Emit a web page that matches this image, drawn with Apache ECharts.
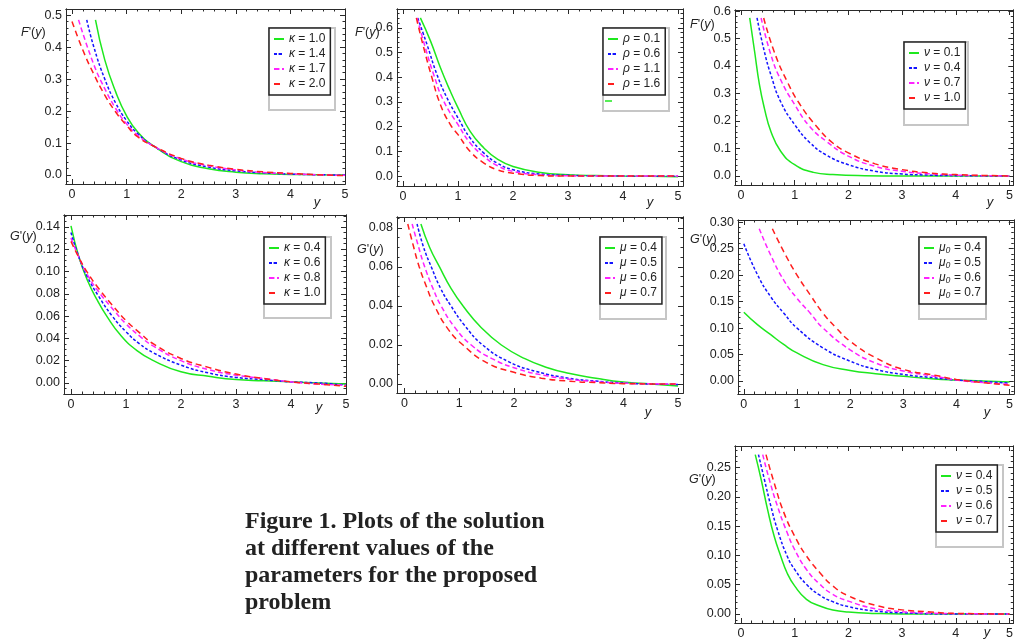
<!DOCTYPE html>
<html>
<head>
<meta charset="utf-8">
<title>Figure 1</title>
<script src="https://cdn.jsdelivr.net/npm/echarts@6/dist/echarts.min.js"></script>
<style>
  html, body { margin: 0; padding: 0; background: #fff; }
  #main { width: 1016px; height: 642px; }
</style>
</head>
<body>
<div id="main"></div>
<script>
// tick labels
var xLabels = ['0', '1', '2', '3', '4', '5'];
var yLabelsF1 = ['0.0', '0.1', '0.2', '0.3', '0.4', '0.5'];
var yLabelsF2 = ['0.0', '0.1', '0.2', '0.3', '0.4', '0.5', '0.6'];
var yLabelsF3 = ['0.0', '0.1', '0.2', '0.3', '0.4', '0.5', '0.6'];
var yLabelsG4 = ['0.00', '0.02', '0.04', '0.06', '0.08', '0.10', '0.12', '0.14'];
var yLabelsG5 = ['0.00', '0.02', '0.04', '0.06', '0.08'];
var yLabelsG6 = ['0.00', '0.05', '0.10', '0.15', '0.20', '0.25', '0.30'];
var yLabelsG7 = ['0.00', '0.05', '0.10', '0.15', '0.20', '0.25'];

// legend names
var namesKappaF = ['κ = 1.0', 'κ = 1.4', 'κ = 1.7', 'κ = 2.0'];
var namesRho = ['ρ = 0.1', 'ρ = 0.6', 'ρ = 1.1', 'ρ = 1.6'];
var namesNuF = ['ν = 0.1', 'ν = 0.4', 'ν = 0.7', 'ν = 1.0'];
var namesKappaG = ['κ = 0.4', 'κ = 0.6', 'κ = 0.8', 'κ = 1.0'];
var namesMu = ['μ = 0.4', 'μ = 0.5', 'μ = 0.6', 'μ = 0.7'];
var namesMu0 = ['μ₀ = 0.4', 'μ₀ = 0.5', 'μ₀ = 0.6', 'μ₀ = 0.7'];
var namesNuG = ['ν = 0.4', 'ν = 0.5', 'ν = 0.6', 'ν = 0.7'];

// panel 1: F'(y) for kappa
var f1_k10 = [[0.43,0.485],[0.6,0.36],[0.8,0.26],[1.0,0.185],[1.2,0.135],[1.5,0.09],[2,0.042],[2.5,0.02],[3,0.009],[3.5,0.004],[4,0.002],[4.5,0.001],[5,0]];
var f1_k14 = [[0.27,0.485],[0.4,0.4],[0.6,0.3],[0.8,0.225],[1.0,0.17],[1.2,0.13],[1.5,0.09],[2,0.047],[2.5,0.025],[3,0.013],[3.5,0.007],[4,0.003],[4.5,0.001],[5,0]];
var f1_k17 = [[0.12,0.485],[0.4,0.345],[0.6,0.27],[0.8,0.208],[1.0,0.16],[1.2,0.125],[1.5,0.09],[2,0.05],[2.5,0.029],[3,0.016],[3.5,0.008],[4,0.004],[4.5,0.001],[5,-0.001]];
var f1_k20 = [[0.0,0.48],[0.2,0.39],[0.4,0.315],[0.6,0.25],[0.8,0.197],[1.0,0.155],[1.2,0.12],[1.5,0.09],[2,0.052],[2.5,0.031],[3,0.018],[3.5,0.01],[4,0.005],[4.5,0.001],[5,-0.002]];

// panel 2: F'(y) for rho
var f2_r01 = [[0.315,0.64],[0.5,0.546],[0.68,0.438],[0.86,0.343],[1.0,0.276],[1.22,0.181],[1.47,0.114],[1.71,0.07],[2.0,0.039],[2.5,0.015],[3.0,0.006],[3.5,0.002],[4,0],[4.5,-0.001],[5,-0.003]];
var f2_r06 = [[0.267,0.64],[0.436,0.532],[0.618,0.41],[0.8,0.316],[1.0,0.235],[1.22,0.154],[1.47,0.093],[1.71,0.053],[2.0,0.026],[2.5,0.008],[3.0,0.003],[3.5,0.001],[4,0],[5,-0.001]];
var f2_r11 = [[0.255,0.64],[0.406,0.519],[0.558,0.41],[0.74,0.303],[1.0,0.208],[1.22,0.134],[1.47,0.08],[1.71,0.043],[2.0,0.019],[2.5,0.005],[3.0,0.001],[4,0],[5,0]];
var f2_r16 = [[0.242,0.64],[0.376,0.519],[0.527,0.397],[0.68,0.289],[0.86,0.208],[1.0,0.168],[1.22,0.1],[1.47,0.053],[1.71,0.026],[2.0,0.012],[2.5,0.002],[3,0],[4,0],[5,0]];

// panel 3: F'(y) for nu
var f3_n01 = [[0.164,0.575],[0.255,0.453],[0.345,0.332],[0.436,0.247],[0.558,0.162],[0.74,0.09],[1.0,0.041],[1.35,0.013],[1.71,0.005],[2.3,0.001],[3,0],[4,0],[5,0]];
var f3_n04 = [[0.3,0.575],[0.436,0.453],[0.558,0.368],[0.74,0.27],[1.0,0.187],[1.28,0.122],[1.59,0.076],[2.0,0.041],[2.5,0.017],[3.0,0.007],[3.5,0.003],[4,0.001],[5,0]];
var f3_n07 = [[0.376,0.575],[0.558,0.441],[0.74,0.35],[1.0,0.26],[1.28,0.18],[1.59,0.126],[2.0,0.072],[2.5,0.035],[3.0,0.017],[3.5,0.008],[4,0.003],[4.5,0.001],[5,0]];
var f3_n10 = [[0.424,0.575],[0.618,0.453],[0.86,0.344],[1.1,0.26],[1.41,0.18],[1.71,0.12],[2.0,0.084],[2.5,0.044],[3.0,0.023],[3.5,0.011],[4,0.005],[4.5,0.002],[5,0]];

// panel 4: G'(y) for kappa
var g4_k04 = [[0,0.141],[0.15,0.112],[0.3,0.092],[0.47,0.075],[0.65,0.06],[0.9,0.043],[1.2,0.029],[1.5,0.02],[2,0.01],[2.5,0.006],[3,0.003],[3.5,0.002],[4,0.001],[4.5,0],[5,-0.001]];
var g4_k06 = [[0,0.135],[0.15,0.112],[0.3,0.095],[0.5,0.078],[0.75,0.06],[1.0,0.046],[1.25,0.035],[1.5,0.027],[2,0.016],[2.5,0.009],[3,0.005],[3.5,0.003],[4,0.001],[4.5,0],[5,-0.002]];
var g4_k08 = [[0,0.13],[0.15,0.112],[0.3,0.097],[0.5,0.082],[0.8,0.064],[1.0,0.053],[1.25,0.042],[1.5,0.033],[2,0.02],[2.5,0.012],[3,0.007],[3.5,0.004],[4,0.001],[4.5,-0.001],[5,-0.002]];
var g4_k10 = [[0,0.127],[0.15,0.112],[0.3,0.099],[0.5,0.085],[0.8,0.067],[1.0,0.056],[1.25,0.045],[1.5,0.035],[2,0.022],[2.5,0.014],[3,0.008],[3.5,0.004],[4,0.001],[4.5,-0.001],[5,-0.003]];

// panel 5: G'(y) for mu
var g5_m04 = [[0.3,0.082],[0.46,0.07],[0.64,0.06],[0.85,0.049],[1.07,0.04],[1.4,0.029],[1.77,0.02],[2.2,0.013],[2.6,0.0085],[3,0.0055],[3.5,0.003],[4,0.001],[4.5,0],[5,-0.001]];
var g5_m05 = [[0.23,0.082],[0.35,0.07],[0.49,0.06],[0.66,0.049],[0.85,0.04],[1.1,0.03],[1.43,0.02],[1.9,0.0115],[2.4,0.0065],[3,0.003],[3.5,0.0015],[4,0.0005],[4.5,0],[5,-0.0002]];
var g5_m06 = [[0.14,0.082],[0.25,0.071],[0.37,0.06],[0.52,0.049],[0.67,0.04],[0.92,0.029],[1.22,0.02],[1.6,0.013],[2.1,0.0075],[2.6,0.0042],[3,0.0025],[3.5,0.0012],[4,0.0004],[5,0]];
var g5_m07 = [[0.06,0.082],[0.16,0.071],[0.27,0.06],[0.4,0.05],[0.55,0.04],[0.8,0.028],[1.07,0.02],[1.5,0.011],[2,0.006],[2.5,0.003],[3,0.0015],[3.5,0.0007],[4,0.0002],[5,0]];

// panel 6: G'(y) for mu0
var g6_m04 = [[0,0.13],[0.25,0.107],[0.506,0.0875],[0.75,0.069],[1.0,0.053],[1.49,0.031],[2.0,0.02],[2.48,0.0138],[3.0,0.0088],[3.59,0.004],[4,0.002],[4.5,0],[5,-0.002]];
var g6_m05 = [[0,0.259],[0.26,0.2],[0.506,0.159],[0.753,0.128],[1.0,0.1],[1.49,0.0625],[2.0,0.0375],[2.48,0.022],[3.0,0.0125],[3.59,0.006],[4,0.002],[4.5,-0.001],[5,-0.004]];
var g6_m06 = [[0.29,0.2875],[0.506,0.2375],[0.753,0.19],[1.0,0.156],[1.25,0.128],[1.49,0.1],[2.0,0.059],[2.48,0.034],[3.0,0.019],[3.59,0.009],[4,0.002],[4.5,-0.003],[5,-0.006]];
var g6_m07 = [[0.537,0.2875],[0.753,0.244],[1.0,0.2],[1.25,0.1625],[1.49,0.128],[1.74,0.1],[2.0,0.075],[2.48,0.044],[3.0,0.022],[3.59,0.011],[4,0.003],[4.5,-0.003],[5,-0.008]];

// panel 7: G'(y) for nu
var g7_n04 = [[0.267,0.272],[0.376,0.23],[0.497,0.178],[0.618,0.133],[0.74,0.099],[0.86,0.07],[1.0,0.048],[1.22,0.025],[1.47,0.0136],[1.71,0.0068],[2.0,0.0034],[2.5,0.001],[3,0],[4,0],[5,0]];
var g7_n05 = [[0.327,0.272],[0.436,0.23],[0.558,0.184],[0.68,0.144],[0.86,0.099],[1.0,0.076],[1.22,0.0506],[1.47,0.032],[1.71,0.021],[2.0,0.0125],[2.5,0.005],[3.0,0.002],[4,0],[5,0]];
var g7_n06 = [[0.406,0.272],[0.527,0.23],[0.68,0.184],[0.86,0.139],[1.0,0.11],[1.22,0.076],[1.47,0.0506],[1.71,0.0335],[2.0,0.022],[2.5,0.009],[3.0,0.004],[3.5,0.0015],[4,0.0005],[5,0]];
var g7_n07 = [[0.467,0.272],[0.618,0.224],[0.8,0.173],[1.0,0.133],[1.22,0.099],[1.47,0.0705],[1.71,0.048],[2.0,0.031],[2.5,0.015],[3.0,0.007],[3.53,0.0034],[4,0.001],[5,0]];

var FONT = '"Liberation Sans", Arial, sans-serif';
var COLORS = ['#1ee81e', '#1414ff', '#ff22ff', '#ff1e1e'];
var DASHES = ['solid', [3, 2], [5, 3], [6, 4]];
// legend samples: short dash pairs, and one long bar for blue
var ICONS = [
  'path://M0,0h4v2h-4zM6,0h4v2h-4z',
  'path://M0,0h10v2h-10z',
  'path://M0,0h4v2h-4zM6,0h4v2h-4z',
  'path://M0,0h4v2h-4zM6,0h4v2h-4z'
];

var panels = [
  { grid: [66, 9, 279, 175], xr: [-0.11, 5.0], yr: [-0.028, 0.519], yLabels: yLabelsF1, yMinor: 0.02,
    names: namesKappaF, data: [f1_k10, f1_k14, f1_k17, f1_k20], fn: 'F', title: [21, 33], yName: [317, 202],
    legend: [269, 28], shadow: [269, 28, 66, 82] },
  { grid: [397, 9, 286, 177], xr: [-0.11, 5.09], yr: [-0.04, 0.676], yLabels: yLabelsF2, yMinor: 0.02,
    names: namesRho, data: [f2_r01, f2_r06, f2_r11, f2_r16], fn: 'F', title: [355, 33], yName: [650, 202],
    legend: [603, 28], shadow: [603, 28, 66, 83] },
  { grid: [735, 10, 285, 175], xr: [-0.11, 5.07], yr: [-0.033, 0.604], yLabels: yLabelsF3, yMinor: 0.02,
    names: namesNuF, data: [f3_n01, f3_n04, f3_n07, f3_n10], fn: 'F', title: [690, 25], yName: [990, 202],
    legend: [904, 42], shadow: [904, 42, 64, 83] },
  { grid: [64, 215, 282, 179], xr: [-0.127, 5.0], yr: [-0.0099, 0.1507], yLabels: yLabelsG4, yMinor: 0.005,
    names: namesKappaG, data: [g4_k04, g4_k06, g4_k08, g4_k10], fn: 'G', title: [10, 237], yName: [319, 407],
    legend: [264, 237], shadow: [264, 237, 67, 81] },
  { grid: [397, 217, 286, 176], xr: [-0.137, 5.09], yr: [-0.0046, 0.0856], yLabels: yLabelsG5, yMinor: 0.005,
    names: namesMu, data: [g5_m04, g5_m05, g5_m06, g5_m07], fn: 'G', title: [357, 250], yName: [648, 412],
    legend: [600, 237], shadow: [600, 237, 66, 82] },
  { grid: [738, 220, 282, 174], xr: [-0.11, 5.08], yr: [-0.0245, 0.304], yLabels: yLabelsG6, yMinor: 0.01,
    names: namesMu0, data: [g6_m04, g6_m05, g6_m06, g6_m07], fn: 'G', title: [690, 240], yName: [987, 412],
    legend: [919, 237], shadow: [919, 237, 67, 82] },
  { grid: [735, 446, 285, 177], xr: [-0.11, 5.07], yr: [-0.0154, 0.2867], yLabels: yLabelsG7, yMinor: 0.01,
    names: namesNuG, data: [g7_n04, g7_n05, g7_n06, g7_n07], fn: 'G', title: [689, 480], yName: [987, 632],
    legend: [936, 465], shadow: [936, 465, 67, 82] }
];

function near(a, b) { return Math.abs(a - b) < 1e-9; }

function minorTicks(lo, hi, step, majors) {
  var out = [];
  for (var k = Math.ceil(lo / step - 1e-9); k * step <= hi + 1e-9; k++) {
    var v = Math.round(k * step * 1e6) / 1e6;
    if (!majors.some(function (m) { return near(m, v); })) out.push(v);
  }
  return out;
}

function makeAxis(g, pos, range, majors, minors, labels, isMinor) {
  var showLabel = !isMinor && (pos === 'bottom' || pos === 'left');
  return {
    type: 'value', gridIndex: g, position: pos, min: range[0], max: range[1],
    axisLine: { show: true, onZero: false, lineStyle: { color: '#2a2a2a', width: 1 } },
    axisTick: { show: true, inside: true, length: isMinor ? 2.5 : 5,
      customValues: isMinor ? minors : majors, lineStyle: { color: '#2a2a2a', width: 1 } },
    axisLabel: { show: showLabel, customValues: majors, margin: 4,
      fontFamily: FONT, fontSize: 12.5, color: '#222',
      formatter: function (v) {
        for (var i = 0; i < majors.length; i++) if (near(majors[i], v)) return labels[i];
        return '';
      } },
    splitLine: { show: false }
  };
}

var xAxes = [], yAxes = [], grids = [], series = [], legends = [], graphics = [];
var xMajors = xLabels.map(Number);

panels.forEach(function (p, g) {
  grids.push({ left: p.grid[0], top: p.grid[1], width: p.grid[2], height: p.grid[3], containLabel: false });
  var xMin = minorTicks(p.xr[0], p.xr[1], 0.2, xMajors);
  var yMajors = p.yLabels.map(Number);
  var yMin = minorTicks(p.yr[0], p.yr[1], p.yMinor, yMajors);
  var base = xAxes.length;
  ['bottom', 'top'].forEach(function (pos) {
    xAxes.push(makeAxis(g, pos, p.xr, xMajors, xMin, xLabels, false));
    xAxes.push(makeAxis(g, pos, p.xr, xMajors, xMin, xLabels, true));
  });
  ['left', 'right'].forEach(function (pos) {
    yAxes.push(makeAxis(g, pos, p.yr, yMajors, yMin, p.yLabels, false));
    yAxes.push(makeAxis(g, pos, p.yr, yMajors, yMin, p.yLabels, true));
  });

  var legendNames = [];
  p.data.forEach(function (d, k) {
    var nm = 'p' + g + '|' + p.names[k];
    legendNames.push(nm);
    series.push({
      type: 'line', name: nm, xAxisIndex: base, yAxisIndex: base,
      data: d, symbol: 'none', showSymbol: false, smooth: 0.5, clip: true,
      legendIcon: ICONS[k],
      lineStyle: { color: COLORS[k], width: 1.5, type: DASHES[k] },
      itemStyle: { color: COLORS[k] }
    });
  });

  legends.push({
    data: legendNames, orient: 'vertical', left: p.legend[0], top: p.legend[1],
    itemWidth: 10, itemHeight: 2, itemGap: 3, padding: [5, 5, 5, 4],
    backgroundColor: '#fff', borderColor: '#222', borderWidth: 1.5, selectedMode: false,
    textStyle: { fontFamily: FONT, fontSize: 12, color: '#222', lineHeight: 12,
      rich: { i: { fontFamily: FONT, fontSize: 12, fontStyle: 'italic', color: '#222' } } },
    formatter: function (name) {
      var s = name.split('|')[1];
      var j = s.indexOf(' = ');
      return '{i|' + s.slice(0, j) + '} = ' + s.slice(j + 3);
    }
  });

  graphics.push({
    type: 'rect', z: 1,
    shape: { x: p.shadow[0], y: p.shadow[1], width: p.shadow[2], height: p.shadow[3] },
    style: { fill: null, stroke: '#c6c6c6', lineWidth: 2 }
  });
  graphics.push({
    type: 'text', x: p.title[0], y: p.title[1],
    style: { text: '{i|' + p.fn + '}\'({i|y})', fontFamily: FONT, fontSize: 12.5, fill: '#222',
      verticalAlign: 'middle', align: 'left',
      rich: { i: { fontFamily: FONT, fontSize: 12.5, fontStyle: 'italic', fill: '#222' } } }
  });
  graphics.push({
    type: 'text', x: p.yName[0], y: p.yName[1],
    style: { text: 'y', fontFamily: FONT, fontSize: 13, fontStyle: 'italic', fill: '#222',
      verticalAlign: 'middle', align: 'center' }
  });
});

// stray legend sample in the rho panel
graphics.push({
  type: 'line', shape: { x1: 605, y1: 101, x2: 612, y2: 101 },
  style: { stroke: COLORS[0], lineWidth: 1.5 }
});

// caption
graphics.push({
  type: 'text', x: 245, y: 508,
  style: {
    text: 'Figure 1. Plots of the solution\nat different values of the\nparameters for the proposed\nproblem',
    fontFamily: '"Liberation Serif", "Times New Roman", serif', fontWeight: 'bold', fontSize: 24,
    lineHeight: 27, fill: '#222', align: 'left', verticalAlign: 'top'
  }
});

var chart = echarts.init(document.getElementById('main'), null, { renderer: 'canvas' });
chart.setOption({
  animation: false,
  backgroundColor: '#fff',
  grid: grids,
  xAxis: xAxes,
  yAxis: yAxes,
  legend: legends,
  series: series,
  graphic: graphics
});
</script>
</body>
</html>
